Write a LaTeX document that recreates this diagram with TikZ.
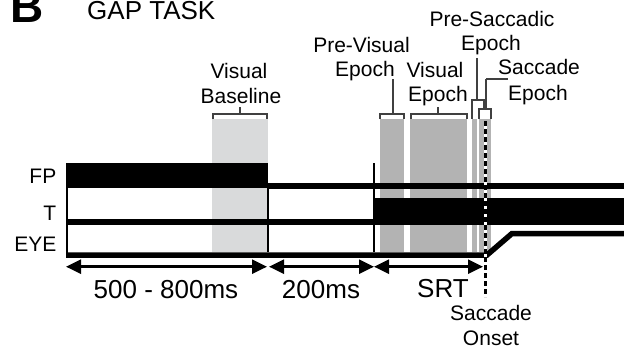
\documentclass[tikz,border=0pt]{standalone}
\usepackage{fontspec}
\setmainfont{Liberation Sans}
\usetikzlibrary{arrows.meta}
\definecolor{basegray}{HTML}{D9DADB}
\definecolor{epochgray}{HTML}{B3B3B3}
\tikzset{
  lbl/.style={inner sep=0pt, anchor=base, font=\fontsize{21}{25}\selectfont},
  biglbl/.style={inner sep=0pt, anchor=base, font=\fontsize{26}{30}\selectfont},
  trace/.style={line width=5.5pt},
  bracket/.style={line width=1.5pt, black!75},
  span/.style={line width=2.5pt, {Triangle[length=15pt,width=14pt]}-{Triangle[length=15pt,width=14pt]}},
}

\begin{document}
\begin{tikzpicture}[x=1pt, y=-1pt]
    \useasboundingbox (0,0) rectangle (624,354);
    % 見出し
    \node[inner sep=0pt, anchor=base west, font=\fontsize{46}{46}\selectfont\bfseries] (panel) at (10,22.7) {B};
    \node[biglbl, anchor=base west] (title) at (87,19.5) {GAP TASK};

    % 区間の帯
    \fill[basegray] (212,119) rectangle (268,252);
    \foreach \a/\b in {380/404, 410/467, 472/477, 479/491}
        \fill[epochgray] (\a,119) rectangle (\b,252);

    % かっこ: 左, 右, 高さ, 柄の位置, 柄の上端, 右脚の下端
    \foreach \l/\r/\y/\tx/\top/\rb in {213/267/114/240/107/119, 380/404/114/393/79/119,
                                    411/467/114/438/107/119, 472/484/100/477/58/109,
                                    479/491/109/486/79/119} {
        \draw[bracket] (\l,119) -- (\l,\y) -- (\r,\y) -- (\r,\rb);
        \draw[bracket] (\tx,\y) -- (\tx,\top);
    }
    \draw[bracket] (486,79) -- (508,79);

    % FP, T, EYE
    \fill (66,163) rectangle (268,188);
    \draw[trace] (268,186) -- (624,186);
    \draw[trace] (66,222) -- (374,222);
    \fill (374,198) rectangle (624,225);
    \draw[trace] (66,255) -- (487,255) -- (512,233.5) -- (624,233.5);
    \draw[line width=2pt] (66.5,163) -- (66.5,257);
    \draw[line width=2pt] (268,186) -- (268,252);
    \draw[line width=2pt] (374,163) -- (374,252);

    % 眼球運動開始
    \draw[white, line width=2.6pt] (485.7,121) -- (485.7,297);
    \draw[line width=2.6pt, dash pattern=on 5pt off 3pt] (485.7,121) -- (485.7,297);

    \node[lbl, anchor=base east] (fp)  at (56.5,183.3) {FP};
    \node[lbl, anchor=base east] (tg)  at (56.5,220)   {T};
    \node[lbl, anchor=base east] (eye) at (56.5,251.7) {EYE};

    % 時間の矢印
    \coordinate (m0) at (66,266.7);
    \coordinate (m1) at (267,266.7);
    \coordinate (m2) at (269,266.7);
    \coordinate (m3) at (374,266.7);
    \coordinate (m4) at (483,266.7);
    \draw[span] (m0) -- (m1);
    \draw[span] (m2) -- (m3);
    \draw[span] (m3) -- (m4);
    \node[biglbl] (fixdur) at (166,298) {500 - 800ms};
    \node[biglbl] (gapdur) at (321,298) {200ms};
    \node[biglbl] (srt)    at (443,297) {SRT};

    % ラベル
    \node[lbl] (vb1) at (239,78.3)  {Visual};
    \node[lbl] (vb2) at (241,103.3) {Baseline};
    \node[lbl] (pv1) at (361.5,52.7) {Pre-Visual};
    \node[lbl] (pv2) at (365,76)     {Epoch};
    \node[lbl] (ve1) at (435,77.3)  {Visual};
    \node[lbl] (ve2) at (438,101.7) {Epoch};
    \node[lbl] (ps1) at (492,26)    {Pre-Saccadic};
    \node[lbl] (ps2) at (491,50.7)  {Epoch};
    \node[lbl] (se1) at (539,74)    {Saccade};
    \node[lbl] (se2) at (538,100)   {Epoch};
    \node[lbl] (so1) at (491,320)   {Saccade};
    \node[lbl] (so2) at (491,345)   {Onset};
\end{tikzpicture}
\end{document}
